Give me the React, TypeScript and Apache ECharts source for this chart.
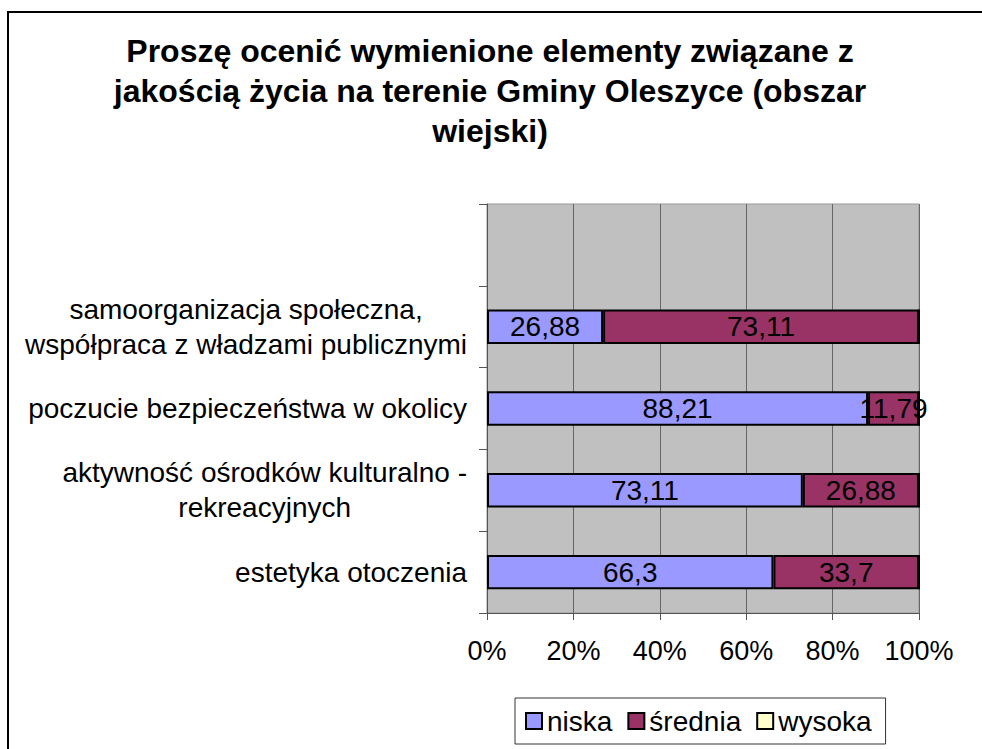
import React, { useEffect, useRef } from "react";
import * as echarts from "echarts";

const titleText =
  "Proszę ocenić wymienione elementy związane z\njakością życia na terenie Gminy Oleszyce (obszar\nwiejski)";

const categories = [
  "estetyka otoczenia",
  "aktywność ośrodków kulturalno -\nrekreacyjnych",
  "poczucie bezpieczeństwa w okolicy",
  "samoorganizacja społeczna,\nwspółpraca z władzami publicznymi",
  "",
];

const niska = [66.3, 73.11, 88.21, 26.88, null];
const srednia = [33.7, 26.88, 11.79, 73.11, null];
const wysoka = [0, 0, 0, 0, null];

const xTicks = [0, 20, 40, 60, 80, 100];

const FONT = "Arial, 'Liberation Sans', sans-serif";

export default function App() {
  const ref = useRef<HTMLDivElement>(null);

  useEffect(() => {
    if (!ref.current) return;
    const chart = echarts.init(ref.current, null, { renderer: "svg" });

    const fmt = (p: any) => {
      const v = p.value;
      if (v === null || v === undefined || v === 0) return "";
      return String(v).replace(".", ",");
    };

    const mkSeries = (name: string, data: any[], color: string) => ({
      name,
      type: "bar",
      stack: "total",
      data,
      barWidth: "42%",
      itemStyle: { color, borderColor: "#000", borderWidth: 2 },
      label: {
        show: true,
        position: "inside",
        formatter: fmt,
        color: "#000",
        fontSize: 28,
        fontFamily: FONT,
      },
    });

    chart.setOption({
      animation: false,
      backgroundColor: "#fff",
      title: {
        text: titleText,
        left: 485,
        top: 26,
        textAlign: "center",
        textStyle: {
          fontSize: 32,
          fontWeight: "bold",
          lineHeight: 40,
          color: "#000",
          fontFamily: FONT,
        },
      },
      graphic: [
        {
          type: "rect",
          shape: { x: 8, y: 12, width: 1000, height: 800 },
          style: { fill: "none", stroke: "#000", lineWidth: 2 },
          silent: true,
        },
      ],
      legend: {
        left: 515,
        top: 698,
        padding: [9, 14, 9, 10],
        borderColor: "#333",
        borderWidth: 1,
        itemWidth: 16,
        itemHeight: 16,
        itemGap: 15,
        icon: "rect",
        textStyle: { fontSize: 28, color: "#000", fontFamily: FONT },
        data: ["niska", "średnia", "wysoka"],
      },
      grid: {
        left: 487,
        top: 204,
        width: 432,
        height: 409,
        show: true,
        backgroundColor: "#C0C0C0",
        borderColor: "#999",
        borderWidth: 1,
      },
      xAxis: {
        type: "value",
        min: 0,
        max: 100,
        interval: 20,
        axisLine: { show: true, lineStyle: { color: "#555", width: 1 } },
        axisTick: { show: true, length: 7, lineStyle: { color: "#555" } },
        splitLine: { show: true, lineStyle: { color: "#666", width: 1 } },
        axisLabel: {
          formatter: (v: number) => (xTicks.includes(v) ? v + "%" : ""),
          fontSize: 27,
          color: "#000",
          fontFamily: FONT,
          margin: 24,
        },
      },
      yAxis: {
        type: "category",
        data: categories,
        axisLine: { show: true, lineStyle: { color: "#555", width: 1 } },
        axisTick: { show: true, length: 8, lineStyle: { color: "#555" } },
        axisLabel: {
          margin: 20,
          align: "right",
          formatter: (v: string) =>
            v
              .split("\n")
              .map((l) => "{c|" + l + "}")
              .join("\n"),
          rich: {
            c: {
              align: "center",
              fontSize: 28,
              lineHeight: 35,
              color: "#000",
              fontFamily: FONT,
            },
          },
        },
      },
      series: [
        mkSeries("niska", niska, "#9999FF"),
        mkSeries("średnia", srednia, "#993366"),
        mkSeries("wysoka", wysoka, "#FFFFCC"),
      ],
    });

    return () => chart.dispose();
  }, []);

  return (
    <div
      ref={ref}
      style={{ position: "fixed", left: 0, top: 0, width: 982, height: 749 }}
    />
  );
}
